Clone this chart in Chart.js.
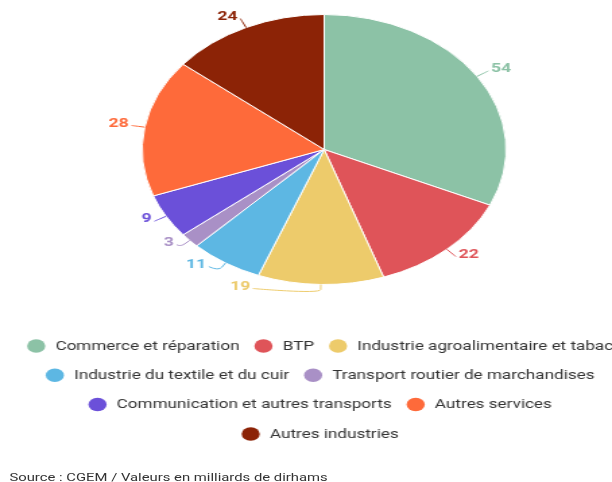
<!DOCTYPE html>
<html>
<head>
<meta charset="utf-8">
<script src="https://cdn.jsdelivr.net/npm/chart.js@4.4.1/dist/chart.umd.min.js"></script>
<style>
  html, body { margin: 0; padding: 0; width: 612px; height: 482px; overflow: hidden; background: #ffffff; }
  #wrap { position: absolute; left: 0; top: 0; width: 475px; height: 482px; transform: scaleX(1.348); transform-origin: 0 0; }
  #wrap canvas { position: absolute; left: 0; top: 0; }
  #source { position: absolute; left: 7px; top: 471px; font: 11px Roboto, sans-serif; color: #333333; white-space: nowrap; }
</style>
</head>
<body>
<div id="wrap">
  <canvas id="chart" width="475" height="482" style="width:475px;height:482px"></canvas>
  <div id="source"></div>
</div>
<script>
// ---- Data ----
const categories = [
  "Commerce et réparation",
  "BTP",
  "Industrie agroalimentaire et tabac",
  "Industrie du textile et du cuir",
  "Transport routier de marchandises",
  "Communication et autres transports",
  "Autres services",
  "Autres industries"
];
const values = [54, 22, 19, 11, 3, 9, 28, 24];
const colors = ["#8cc2a6", "#df5459", "#edcb6b", "#5db7e3", "#a990c6", "#6b50d9", "#fe6a3a", "#8c2306"];
const sourceNote = "Source : CGEM / Valeurs en milliards de dirhams";

document.getElementById('source').textContent = sourceNote;

// ---- Outside labels with connectors (Highcharts-like layout) ----
const pieLabels = {
  id: 'pieLabels',
  afterDatasetsDraw(chart, args, o) {
    const meta = chart.getDatasetMeta(0);
    const ctx = chart.ctx;
    const ds = chart.data.datasets[0];
    const items = meta.data.map((arc, i) => {
      const p = arc.getProps(['x', 'y', 'startAngle', 'endAngle', 'outerRadius'], true);
      const mid = (p.startAngle + p.endAngle) / 2;
      const c = Math.cos(mid), s = Math.sin(mid);
      const r = p.outerRadius;
      const R = r + o.distance;
      let y = p.y + R * s;
      y = Math.max(p.y - r - o.overflow, Math.min(p.y + r + o.overflow, y));
      return { i, cx: p.x, cy: p.y, r, R, c, s, left: c < 0, y, value: ds.data[i], color: ds.backgroundColor[i] };
    });
    [true, false].forEach(side => {
      const arr = items.filter(it => it.left === side).sort((a, b) => a.y - b.y);
      for (let k = arr.length - 2; k >= 0; k--) arr[k].y = Math.min(arr[k].y, arr[k + 1].y - o.minGap);
      for (let k = 1; k < arr.length; k++) arr[k].y = Math.max(arr[k].y, arr[k - 1].y + o.minGap);
    });
    ctx.save();
    items.forEach(it => {
      const dy = Math.max(-it.r, Math.min(it.r, it.y - it.cy));
      const dx = Math.sqrt(it.R * it.R - dy * dy);
      const lx = it.cx + (it.left ? -dx : dx);
      const ly = it.y;
      const tx = it.cx + it.r * it.c, ty = it.cy + it.r * it.s;
      const bx = it.cx + (it.r + o.breakAt) * it.c, by = it.cy + (it.r + o.breakAt) * it.s;
      ctx.beginPath();
      ctx.moveTo(lx, ly);
      ctx.bezierCurveTo(lx, ly, 2 * bx - tx, 2 * by - ty, bx, by);
      ctx.lineTo(tx, ty);
      ctx.strokeStyle = it.color;
      ctx.lineWidth = 1;
      ctx.stroke();

      ctx.font = 'bold 13px Roboto, sans-serif';
      ctx.textBaseline = 'middle';
      ctx.textAlign = it.left ? 'right' : 'left';
      const x = lx + (it.left ? -o.pad : o.pad);
      const y = ly + o.textShift;
      ctx.lineJoin = 'round';
      ctx.lineWidth = 2;
      ctx.strokeStyle = '#ffffff';
      ctx.strokeText(String(it.value), x, y);
      ctx.fillStyle = it.color;
      ctx.fillText(String(it.value), x, y);
    });
    ctx.restore();
  }
};

// ---- Legend (centered rows of dots + labels) ----
const dotLegend = {
  id: 'dotLegend',
  afterDraw(chart, args, o) {
    const ctx = chart.ctx;
    const ds = chart.data.datasets[0];
    ctx.save();
    ctx.font = o.font;
    const items = chart.data.labels.map((t, i) => ({
      text: t, color: ds.backgroundColor[i],
      w: o.dot + o.dotGap + ctx.measureText(t).width
    }));
    const rows = [];
    let cur = [], curW = 0;
    items.forEach(it => {
      const add = (cur.length ? o.itemGap : 0) + it.w;
      if (cur.length && curW + add > o.maxWidth) {
        rows.push({ items: cur, w: curW });
        cur = [it]; curW = it.w;
      } else {
        cur.push(it); curW += add;
      }
    });
    if (cur.length) rows.push({ items: cur, w: curW });
    const center = chart.width / 2;
    rows.forEach((row, k) => {
      const y = o.top + k * o.lineHeight;
      let x = center - row.w / 2;
      row.items.forEach(it => {
        ctx.beginPath();
        ctx.arc(x + o.dot / 2, y, o.dot / 2, 0, Math.PI * 2);
        ctx.fillStyle = it.color;
        ctx.fill();
        ctx.fillStyle = o.color;
        ctx.textAlign = 'left';
        ctx.textBaseline = 'middle';
        ctx.fillText(it.text, x + o.dot + o.dotGap, y + 0.5);
        x += it.w + o.itemGap;
      });
    });
    ctx.restore();
  }
};

new Chart(document.getElementById('chart'), {
  type: 'pie',
  data: {
    labels: categories,
    datasets: [{
      data: values,
      backgroundColor: colors,
      borderColor: '#ffffff',
      borderWidth: 1,
      hoverOffset: 0
    }]
  },
  options: {
    responsive: false,
    animation: false,
    events: [],
    layout: { padding: { left: 6, right: 0, top: 14, bottom: 197 } },
    plugins: {
      legend: { display: false },
      tooltip: { enabled: false },
      pieLabels: { distance: 10, minGap: 22, breakAt: 5, pad: 2, textShift: -2, overflow: 4 },
      dotLegend: {
        font: '12.7px Roboto, sans-serif', color: '#333333',
        dot: 13.5, dotGap: 7.5, itemGap: 11, maxWidth: 455,
        top: 346, lineHeight: 29.3
      }
    }
  },
  plugins: [pieLabels, dotLegend]
});
</script>
</body>
</html>
